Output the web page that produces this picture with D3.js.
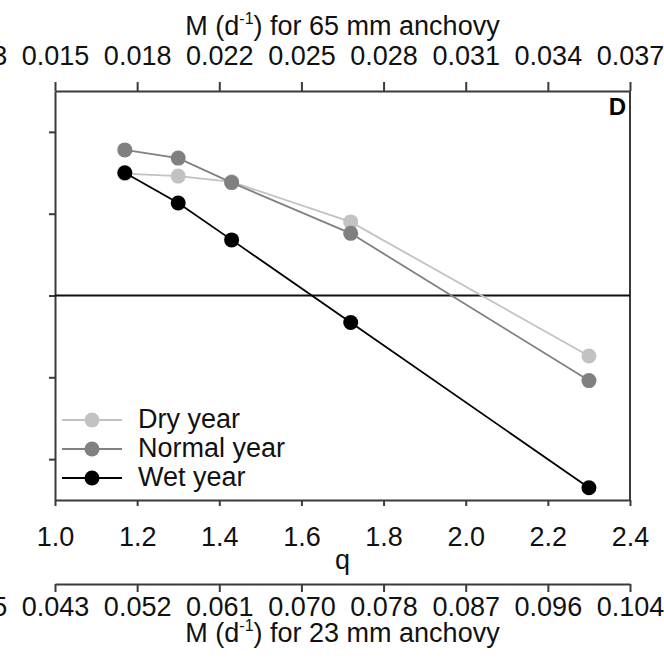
<!DOCTYPE html>
<html>
<head>
<meta charset="utf-8">
<script src="https://cdn.jsdelivr.net/npm/d3@7"></script>
<style>
  html, body { margin: 0; padding: 0; background: #fff; }
  svg { display: block; font-family: "Liberation Sans", Arial, sans-serif; }
</style>
</head>
<body>
<svg id="chart" width="664" height="665"></svg>
<script>
// Relative response versus the mortality scaling factor q
const qValues = [1.17, 1.30, 1.43, 1.72, 2.30];
const dryYear = [1.49, 1.46, 1.39, 0.90, -0.74];
const normalYear = [1.78, 1.68, 1.38, 0.76, -1.04];
const wetYear = [1.50, 1.13, 0.68, -0.33, -2.35];

const seriesNames = ["Dry year", "Normal year", "Wet year"];
const seriesColors = ["#c2c2c2", "#808080", "#000000"];

// q axis ticks
const qTicks = [1.0, 1.2, 1.4, 1.6, 1.8, 2.0, 2.2, 2.4];
// Mortality axes: labels placed at q positions
const mTickQ = [0.8, 1.0, 1.2, 1.4, 1.6, 1.8, 2.0, 2.2, 2.4];
const mLabels65 = ["0.013", "0.015", "0.018", "0.022", "0.025", "0.028", "0.031", "0.034", "0.037"];
const mLabels23 = ["0.035", "0.043", "0.052", "0.061", "0.070", "0.078", "0.087", "0.096", "0.104"];
const yTicks = [-2, -1, 0, 1, 2];

const svg = d3.select("#chart");
const plotLeft = 55, plotRight = 630, plotTop = 91, plotBottom = 500;
const fontSize = 27;

const x = d3.scaleLinear().domain([1.0, 2.4]).range([plotLeft, plotRight]);
const y = d3.scaleLinear().domain([-2.5, 2.5]).range([plotBottom, plotTop]);

const axisColor = "#3a3a3a";
function styleAxis(g) {
  g.selectAll("path.domain").attr("stroke", axisColor).attr("stroke-width", 2);
  g.selectAll(".tick line").attr("stroke", axisColor).attr("stroke-width", 2);
  g.selectAll(".tick text").attr("fill", "#111").style("font-size", fontSize + "px")
    .style("font-family", "'Liberation Sans', Arial, sans-serif");
}

// plot frame: right edge
svg.append("line")
  .attr("x1", plotRight).attr("x2", plotRight).attr("y1", plotTop).attr("y2", plotBottom)
  .attr("stroke", axisColor).attr("stroke-width", 2);

// left axis (ticks only)
svg.append("g")
  .attr("transform", `translate(${plotLeft},0)`)
  .call(d3.axisLeft(y).tickValues(yTicks).tickSize(6).tickSizeOuter(0).tickFormat(""))
  .call(styleAxis);

// bottom frame edge with short ticks, q labels below
svg.append("g")
  .attr("transform", `translate(0,${plotBottom})`)
  .call(d3.axisBottom(x).tickValues(qTicks).tickSize(6).tickSizeOuter(0).tickPadding(21)
    .tickFormat(d3.format(".1f")))
  .call(styleAxis);

svg.append("text")
  .attr("x", (plotLeft + plotRight) / 2).attr("y", 569)
  .attr("text-anchor", "middle").attr("fill", "#111")
  .style("font-size", fontSize + "px").text("q");

// top axis: M for 65 mm anchovy
svg.append("g")
  .attr("transform", `translate(0,${plotTop})`)
  .call(d3.axisTop(x).tickValues(mTickQ).tickSize(9).tickSizeOuter(0).tickPadding(17)
    .tickFormat((d, i) => mLabels65[i]))
  .call(styleAxis);

// separate bottom axis: M for 23 mm anchovy
svg.append("g")
  .attr("transform", "translate(0,584)")
  .call(d3.axisBottom(x).tickValues(mTickQ).tickSize(8).tickSizeOuter(0).tickPadding(5)
    .tickFormat((d, i) => mLabels23[i]))
  .call(styleAxis);

function axisTitle(yPos, size) {
  const t = svg.append("text")
    .attr("x", (plotLeft + plotRight) / 2).attr("y", yPos)
    .attr("text-anchor", "middle").attr("fill", "#111")
    .style("font-size", fontSize + "px");
  t.append("tspan").text("M (d");
  t.append("tspan").attr("dy", -11).style("font-size", "16px").text("-1");
  t.append("tspan").attr("dy", 11).text(`) for ${size} mm anchovy`);
}
axisTitle(35, 65);
axisTitle(642, 23);

// zero reference line
svg.append("line")
  .attr("x1", plotLeft).attr("x2", plotRight).attr("y1", y(0)).attr("y2", y(0))
  .attr("stroke", "#111").attr("stroke-width", 2);

// panel letter
svg.append("text")
  .attr("x", 626).attr("y", 115).attr("text-anchor", "end")
  .attr("fill", "#000").style("font-size", "24px").style("font-weight", "bold").text("D");

// series
const series = [dryYear, normalYear, wetYear].map((vals, i) => ({
  name: seriesNames[i], color: seriesColors[i],
  points: qValues.map((q, j) => ({ q, v: vals[j] }))
}));

const line = d3.line().x(d => x(d.q)).y(d => y(d.v));

series.forEach(s => {
  const g = svg.append("g");
  g.append("path").datum(s.points)
    .attr("fill", "none").attr("stroke", s.color).attr("stroke-width", 1.8)
    .attr("d", line);
  g.selectAll("circle").data(s.points).join("circle")
    .attr("cx", d => x(d.q)).attr("cy", d => y(d.v)).attr("r", 7.5)
    .attr("fill", s.color);
});

// legend
const legend = svg.append("g");
series.forEach((s, i) => {
  const ly = 420 + i * 29;
  legend.append("line").attr("x1", 62).attr("x2", 122).attr("y1", ly).attr("y2", ly)
    .attr("stroke", s.color).attr("stroke-width", 1.8);
  legend.append("circle").attr("cx", 92).attr("cy", ly).attr("r", 7.5).attr("fill", s.color);
  legend.append("text").attr("x", 138).attr("y", ly + 8)
    .attr("fill", "#111").style("font-size", fontSize + "px").text(s.name);
});
</script>
</body>
</html>
